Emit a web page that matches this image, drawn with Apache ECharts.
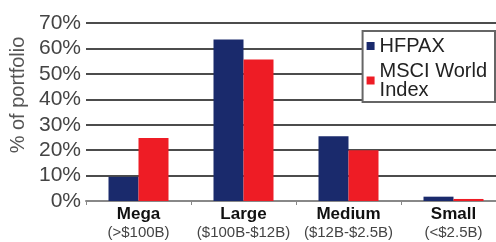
<!DOCTYPE html>
<html>
<head>
<meta charset="utf-8">
<script src="https://cdn.jsdelivr.net/npm/echarts@6/dist/echarts.min.js"></script>
<style>
  html, body { margin: 0; padding: 0; background: #fff; }
  #chart { width: 496px; height: 242px; }
</style>
</head>
<body>
<div id="chart"></div>
<script>
  // categories and their cap ranges
  var categories = ['Mega', 'Large', 'Medium', 'Small'];
  var ranges = ['(>$100B)', '($100B-$12B)', '($12B-$2.5B)', '(<$2.5B)'];
  // % of portfolio
  var hfpax = [9.5, 63.5, 25.5, 1.7];
  var msci = [24.8, 55.6, 20.0, 0.8];

  var chart = echarts.init(document.getElementById('chart'));
  var font = '"Liberation Sans Narrow", "Liberation Sans", Arial, sans-serif';
  var plain = '"Liberation Sans", Arial, sans-serif';

  var option = {
    animation: false,
    textStyle: { fontFamily: font },
    grid: { left: 86, right: -10, top: 23, bottom: 41, outerBoundsMode: 'none', containLabel: false },
    legend: {
      orient: 'vertical',
      right: 1,
      top: 31,
      width: 120,
      backgroundColor: '#fff',
      borderColor: '#666',
      borderWidth: 2,
      borderRadius: 0,
      padding: [5, 8, 2, 4],
      itemGap: 5,
      itemWidth: 8,
      itemHeight: 8,
      icon: 'rect',
      textStyle: { fontSize: 20, color: '#222', fontFamily: plain, lineHeight: 19 },
      formatter: function (name) {
        return name === 'MSCI World Index' ? 'MSCI World\nIndex' : name;
      },
      data: ['HFPAX', 'MSCI World Index']
    },
    xAxis: {
      type: 'category',
      data: categories,
      axisLine: { lineStyle: { color: '#888', width: 2 } },
      axisTick: { show: true, length: 4, lineStyle: { color: '#888' } },
      axisLabel: {
        margin: 4,
        interval: 0,
        formatter: function (v, i) {
          return '{b|' + v + '}\n{r|' + ranges[i] + '}';
        },
        rich: {
          b: { fontSize: 17, fontWeight: 'bold', color: '#111', fontFamily: font, lineHeight: 19 },
          r: { fontSize: 15, color: '#444', fontFamily: font, lineHeight: 18 }
        }
      }
    },
    yAxis: {
      type: 'value',
      min: 0,
      max: 70,
      interval: 10,
      name: '% of portfolio',
      nameLocation: 'middle',
      nameGap: 56,
      nameRotate: 90,
      nameTextStyle: { fontSize: 20, color: '#555', fontFamily: plain, padding: [0, 0, 0, 34] },
      axisLine: { show: false },
      axisTick: { show: false },
      axisLabel: {
        margin: 5,
        fontSize: 21,
        color: '#444',
        fontFamily: plain,
        formatter: '{value}%'
      },
      splitLine: { lineStyle: { color: '#111', width: 1.5 } }
    },
    series: [
      {
        name: 'HFPAX',
        type: 'bar',
        data: hfpax,
        barWidth: 30,
        barGap: '0%',
        itemStyle: { color: '#1a2a6c' }
      },
      {
        name: 'MSCI World Index',
        type: 'bar',
        data: msci,
        barWidth: 30,
        barGap: '0%',
        itemStyle: { color: '#ee1c25' }
      }
    ]
  };

  chart.setOption(option);
</script>
</body>
</html>
